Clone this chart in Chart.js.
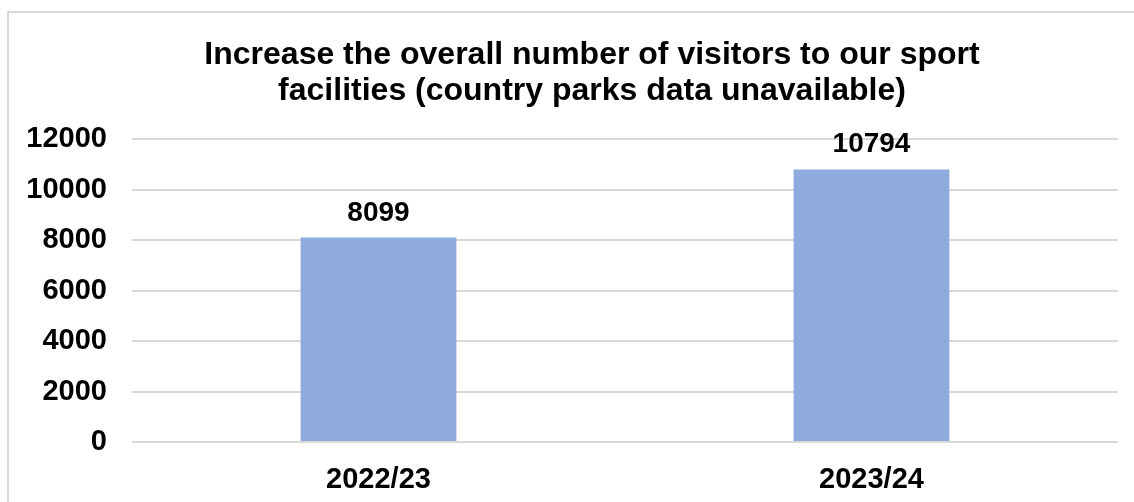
<!DOCTYPE html>
<html>
<head>
<meta charset="utf-8">
<script src="https://cdn.jsdelivr.net/npm/chart.js@4"></script>
<style>
  html, body { margin: 0; padding: 0; background: #fff; overflow: hidden; }
  #frame {
    position: absolute; left: 7px; top: 11px;
    width: 1300px; height: 700px;
    border: 2px solid #d9d9d9;
  }
  #wrap { position: absolute; left: 0; top: 0; width: 1134px; height: 502px; }
</style>
</head>
<body>
<div id="frame"></div>
<div id="wrap"><canvas id="chart"></canvas></div>
<script>
// ── Data ─────────────────────────────────────────────────
const years    = ["2022/23", "2023/24"];
const visitors = [8099, 10794];
const yTicks   = [0, 2000, 4000, 6000, 8000, 10000, 12000];
const titleLines = [
  "Increase the overall number of visitors to our sport",
  "facilities (country parks data unavailable)",
];

const FONT = "'Liberation Sans', Arial, sans-serif";
const GRID = "#d9d9d9";

// value labels above each bar
const barLabels = {
  id: "barLabels",
  afterDatasetsDraw(chart) {
    const { ctx } = chart;
    const meta = chart.getDatasetMeta(0);
    ctx.save();
    ctx.font = `bold 28px ${FONT}`;
    ctx.fillStyle = "#000";
    ctx.textAlign = "center";
    ctx.textBaseline = "alphabetic";
    meta.data.forEach((bar, i) => {
      ctx.fillText(String(visitors[i]), bar.x, bar.y - 17);
    });
    ctx.restore();
  },
};

// nudge the title centre to the right without touching the axes
const titleShift = {
  id: "titleShift",
  afterLayout(chart) {
    if (chart.titleBlock) chart.titleBlock.left = 66;
  },
};

new Chart(document.getElementById("chart"), {
  type: "bar",
  data: {
    labels: years,
    datasets: [{
      data: visitors,
      backgroundColor: "#8faadc",
      borderWidth: 0,
      barPercentage: 0.316,
      categoryPercentage: 1,
    }],
  },
  options: {
    responsive: true,
    maintainAspectRatio: false,
    animation: false,
    layout: { padding: { left: 0, right: 16, top: 0, bottom: 0 } },
    plugins: {
      legend: { display: false },
      tooltip: { enabled: false },
      title: {
        display: true,
        text: titleLines,
        color: "#000",
        font: { family: FONT, size: 32, weight: "bold", lineHeight: 1.125 },
        padding: { top: 37, bottom: 30 },
      },
    },
    scales: {
      x: {
        grid: { display: false },
        border: { display: false },
        ticks: { color: "#000", padding: 13, font: { family: FONT, size: 29, weight: "bold" } },
        afterFit: s => { s.height = 60; },
      },
      y: {
        min: 0,
        max: 12000,
        afterBuildTicks: s => { s.ticks = yTicks.map(v => ({ value: v })); },
        grid: { color: GRID, lineWidth: 2, drawTicks: false },
        border: { display: false },
        ticks: {
          color: "#000",
          padding: 25,
          font: { family: FONT, size: 29, weight: "bold" },
          callback: v => String(v),
        },
        afterFit: s => { s.width = 132; },
      },
    },
  },
  plugins: [barLabels, titleShift],
});
</script>
</body>
</html>
